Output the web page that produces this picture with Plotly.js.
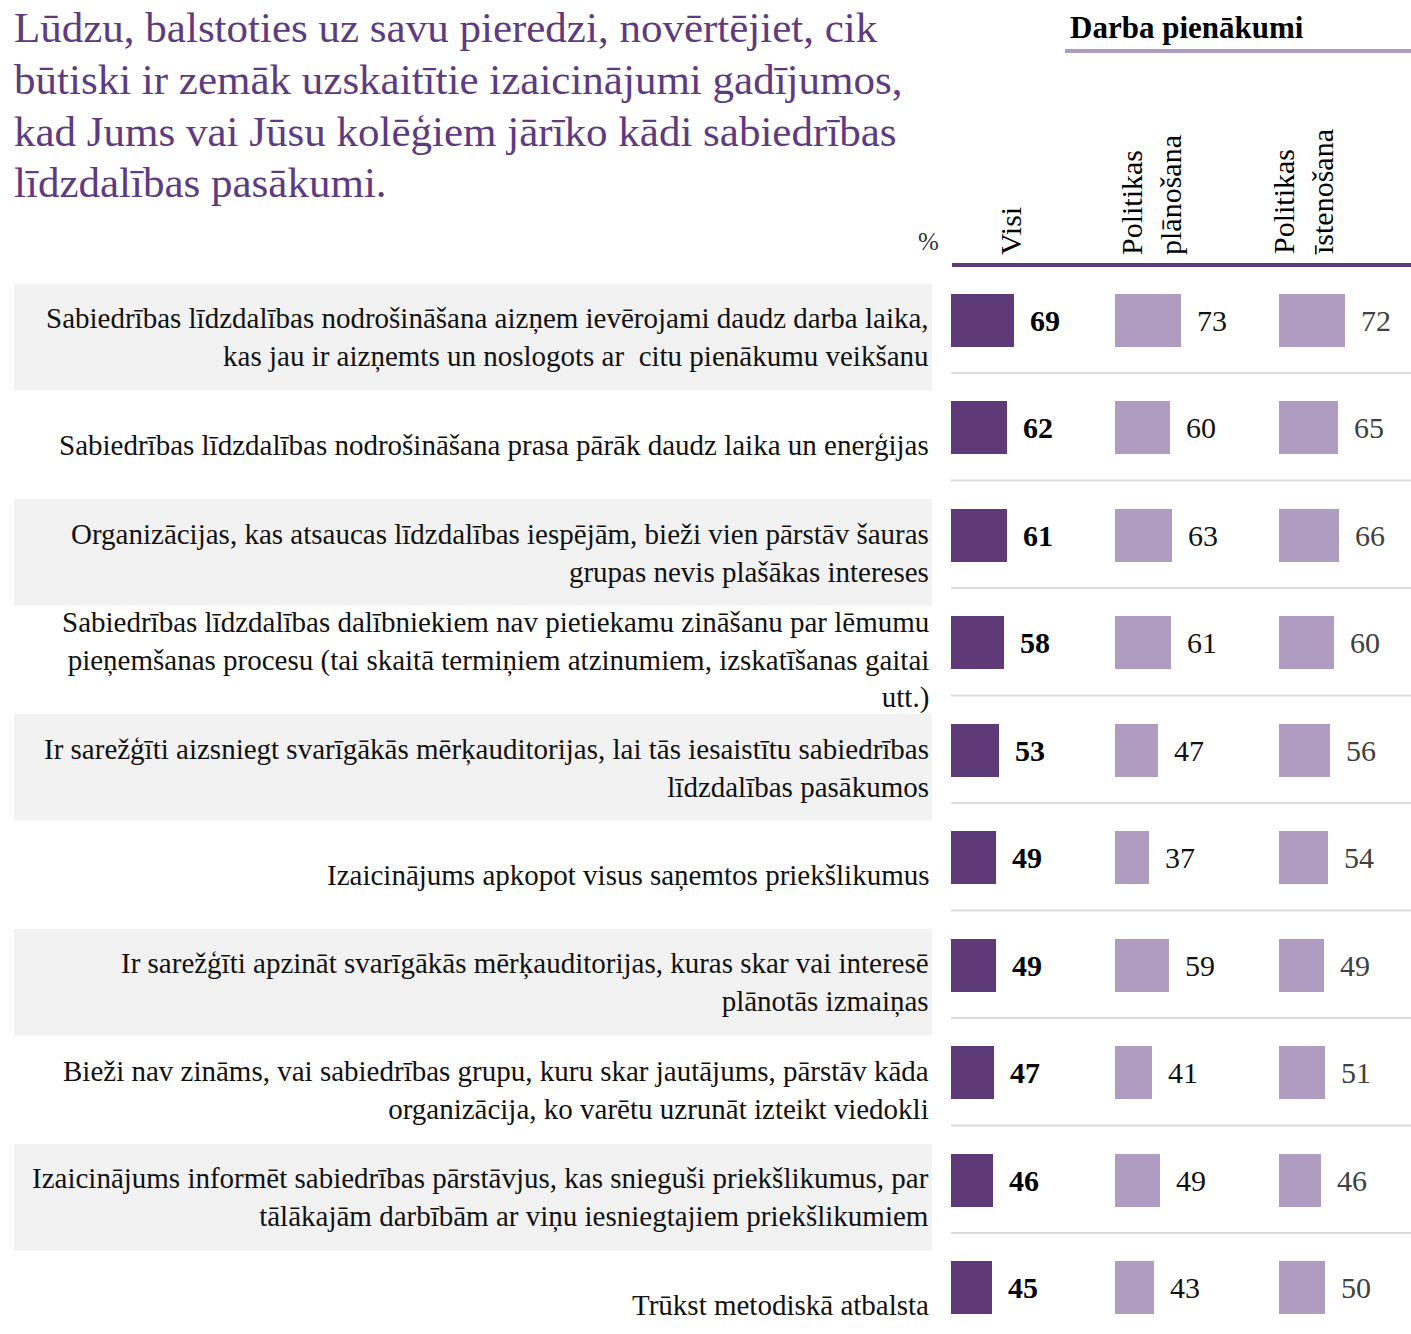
<!DOCTYPE html>
<html>
<head>
<meta charset="utf-8">
<script src="https://cdn.plot.ly/plotly-3.0.1.min.js"></script>
<style>
  html, body { margin: 0; padding: 0; background: #ffffff; }
  #chart { width: 1411px; height: 1334px; }
</style>
</head>
<body>
<div id="chart"></div>
<script>
// ---------- DATA ----------
const titleLines = [
  "Lūdzu, balstoties uz savu pieredzi, novērtējiet, cik",
  "būtiski ir zemāk uzskaitītie izaicinājumi gadījumos,",
  "kad Jums vai Jūsu kolēģiem jārīko kādi sabiedrības",
  "līdzdalības pasākumi."
];
const groupTitle = "Darba pienākumi";
const unitLabel = "%";
const seriesNames = ["Visi", "Politikas<br>plānošana", "Politikas<br>īstenošana"];
const categories = [
  "Sabiedrības līdzdalības nodrošināšana aizņem ievērojami daudz darba laika,<br>kas jau ir aizņemts un noslogots ar  citu pienākumu veikšanu",
  "Sabiedrības līdzdalības nodrošināšana prasa pārāk daudz laika un enerģijas",
  "Organizācijas, kas atsaucas līdzdalības iespējām, bieži vien pārstāv šauras<br>grupas nevis plašākas intereses",
  "Sabiedrības līdzdalības dalībniekiem nav pietiekamu zināšanu par lēmumu<br>pieņemšanas procesu (tai skaitā termiņiem atzinumiem, izskatīšanas gaitai<br>utt.)",
  "Ir sarežģīti aizsniegt svarīgākās mērķauditorijas, lai tās iesaistītu sabiedrības<br>līdzdalības pasākumos",
  "Izaicinājums apkopot visus saņemtos priekšlikumus",
  "Ir sarežģīti apzināt svarīgākās mērķauditorijas, kuras skar vai interesē<br>plānotās izmaiņas",
  "Bieži nav zināms, vai sabiedrības grupu, kuru skar jautājums, pārstāv kāda<br>organizācija, ko varētu uzrunāt izteikt viedokli",
  "Izaicinājums informēt sabiedrības pārstāvjus, kas snieguši priekšlikumus, par<br>tālākajām darbībām ar viņu iesniegtajiem priekšlikumiem",
  "Trūkst metodiskā atbalsta"
];
const visi       = [69, 62, 61, 58, 53, 49, 49, 47, 46, 45];
const planosana  = [73, 60, 63, 61, 47, 37, 59, 41, 49, 43];
const istenosana = [72, 65, 66, 60, 56, 54, 49, 51, 46, 50];

// ---------- LAYOUT HELPERS ----------
const W = 1411, H = 1334;
const px = x => x / W;
const py = y => 1 - y / H;
const FONT = "Liberation Serif, Times New Roman, serif";
const DARK = "#5e3b78";
const LIGHT = "#b09bc1";
const pxPerUnit = 0.91;
const rowPx = 107.5;
const firstCenter = 320;
const plotTop = 266;

const rowIdx = categories.map((_, i) => i);
const series = [visi, planosana, istenosana];
const axesIds = ["x", "x2", "x3"];
const colStart = [951, 1115, 1279];
const colEnd = [1111, 1275, 1411];
const colors = [DARK, LIGHT, LIGHT];

const traces = series.map((vals, k) => ({
  type: "bar",
  orientation: "h",
  x: vals,
  y: rowIdx,
  xaxis: axesIds[k],
  yaxis: "y",
  width: 0.493,
  marker: { color: colors[k], line: { width: 0 } },
  name: seriesNames[k].replace("<br>", " "),
  hoverinfo: "skip",
  showlegend: false
}));

const annotations = [];
const shapes = [];

// title
titleLines.forEach((t, i) => {
  annotations.push({
    xref: "paper", yref: "paper", x: px(12), y: py(28 + i * 51.5),
    xanchor: "left", yanchor: "middle", showarrow: false,
    text: t, font: { family: FONT, size: 43, color: "#5e3b80" }
  });
});

// group title
annotations.push({
  xref: "paper", yref: "paper", x: px(1187), y: py(27),
  xanchor: "center", yanchor: "middle", showarrow: false,
  text: "<b>" + groupTitle + "</b>", font: { family: FONT, size: 31, color: "#000000" }
});
shapes.push({ type: "line", xref: "paper", yref: "paper", x0: px(1065), x1: 1, y0: py(51), y1: py(51),
  line: { color: LIGHT, width: 4 } });

// % label
annotations.push({
  xref: "paper", yref: "paper", x: px(928), y: py(241),
  xanchor: "center", yanchor: "middle", showarrow: false,
  text: unitLabel, font: { family: FONT, size: 25, color: "#333333" }
});

// column headers (rotated)
const headerX = [1010, 1151, 1303];
seriesNames.forEach((n, k) => {
  annotations.push({
    xref: "paper", yref: "paper", x: px(headerX[k]), y: py(257),
    xanchor: "center", yanchor: "bottom", showarrow: false, textangle: -90, align: "left",
    text: n, font: { family: FONT, size: 30, color: "#000000" }
  });
});
shapes.push({ type: "line", xref: "paper", yref: "paper", x0: px(952), x1: 1, y0: py(265), y1: py(265),
  line: { color: DARK, width: 4 } });

// row backgrounds and separators
rowIdx.forEach(i => {
  if (i % 2 === 0) {
    shapes.push({ type: "rect", xref: "paper", yref: "y", x0: px(14), x1: px(932),
      y0: i - 0.335, y1: i + 0.655, fillcolor: "#f2f2f2", line: { width: 0 }, layer: "below" });
  }
  if (i < categories.length - 1) {
    shapes.push({ type: "line", xref: "paper", yref: "y", x0: px(951), x1: 1,
      y0: i + 0.493, y1: i + 0.493, line: { color: "#dcdcdc", width: 2 }, layer: "below" });
  }
});

// category labels
categories.forEach((c, i) => {
  annotations.push({
    xref: "paper", yref: "y", x: px(931), y: i + 0.165,
    xanchor: "right", yanchor: "middle", align: "right", showarrow: false,
    text: c, font: { family: FONT, size: 29, color: "#111111" }
  });
});

// value labels
const valColors = ["#000000", "#111111", "#404040"];
series.forEach((vals, k) => {
  vals.forEach((v, i) => {
    annotations.push({
      xref: axesIds[k], yref: "y", x: v, y: i, xshift: 14,
      xanchor: "left", yanchor: "middle", showarrow: false,
      text: k === 0 ? "<b>" + v + "</b>" : String(v),
      font: { family: FONT, size: 30, color: valColors[k] }
    });
  });
});

const axisCommon = { visible: false, showgrid: false, zeroline: false, fixedrange: true };
const layout = {
  width: W, height: H,
  margin: { l: 0, r: 0, t: 0, b: 0 },
  paper_bgcolor: "#ffffff", plot_bgcolor: "rgba(0,0,0,0)",
  showlegend: false,
  bargap: 0,
  xaxis:  Object.assign({}, axisCommon, { domain: [px(colStart[0]), px(colEnd[0])], range: [0, (colEnd[0] - colStart[0]) / pxPerUnit], anchor: "y" }),
  xaxis2: Object.assign({}, axisCommon, { domain: [px(colStart[1]), px(colEnd[1])], range: [0, (colEnd[1] - colStart[1]) / pxPerUnit], anchor: "y" }),
  xaxis3: Object.assign({}, axisCommon, { domain: [px(colStart[2]), px(colEnd[2])], range: [0, (colEnd[2] - colStart[2]) / pxPerUnit], anchor: "y" }),
  yaxis: Object.assign({}, axisCommon, { domain: [0, py(plotTop)],
    range: [(H - firstCenter) / rowPx, (plotTop - firstCenter) / rowPx] }),
  shapes: shapes,
  annotations: annotations
};

Plotly.newPlot("chart", traces, layout, { displayModeBar: false, staticPlot: true });
</script>
</body>
</html>
